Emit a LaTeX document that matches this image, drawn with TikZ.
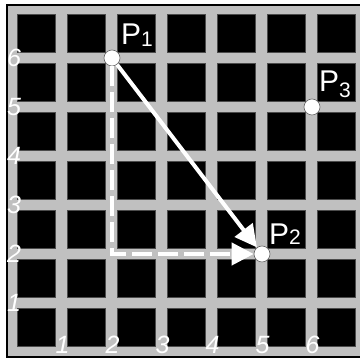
\documentclass[tikz,border=0pt]{standalone}
\usepackage{fontspec}
\setmainfont{Liberation Sans}
\usetikzlibrary{arrows.meta}
\definecolor{street}{HTML}{C0C0C0}

\begin{document}
\begin{tikzpicture}[
    x=50pt, y=49pt,
    block/.style={fill=black, draw=black!70, line width=0.5pt},
    pt/.style={circle, fill=white, draw=black!60, line width=0.6pt,
                minimum size=16pt, inner sep=0pt},
    ptlabel/.style={text=white, inner sep=0pt, anchor=base west,
                font=\fontsize{30}{30}\selectfont},
    axis/.style={text=white, inner sep=0pt, font=\fontsize{25}{25}\selectfont\itshape},
    arrow/.style={-{Triangle[length=22pt,width=22pt]}, white, line width=4pt},
    darrow/.style={arrow, dash pattern=on 20pt off 6pt}
]
\useasboundingbox (-0.24,-0.1224) rectangle (6.96,7.1837);
% Streets and blocks
\fill[street] (-0.1,-0.102) rectangle (6.96,7.082);
\foreach \i in {0,...,6}
  \foreach \j in {0,...,6}
    \draw[block] (\i+0.1,\j+0.11) rectangle (\i+0.86,\j+0.89);
\draw[line width=1.2pt] (6.96,-0.102) -- (-0.1,-0.102) -- (-0.1,7.082) -- (6.96,7.082);

% Axis numbers
\foreach \k in {1,...,6} {
  \node[axis] (y\k) at (0.04,\k) {\k};
  \node[axis] (x\k) at (\k+0.01,0.15) {\k};
}

% Nodes
\node[pt] (p1) at (2,6) {};
\node[pt] (p2) at (5,2) {};
\node[pt] (p3) at (6,5) {};
\node[ptlabel] (p1lab) at ([shift={(9pt,13pt)}]p1.center)
  {P\raisebox{-2pt}{\fontsize{21}{21}\selectfont 1}};
\node[ptlabel] (p2lab) at ([shift={(7pt,9pt)}]p2.center)
  {P\raisebox{0pt}{\fontsize{21}{21}\selectfont 2}};
\node[ptlabel] (p3lab) at ([shift={(7pt,15pt)}]p3.center)
  {P\raisebox{-6pt}{\fontsize{21}{21}\selectfont 3}};

% Arrows
\draw[arrow] (p1) -- (p2);
\draw[darrow] (p1) |- (p2);
\end{tikzpicture}
\end{document}
